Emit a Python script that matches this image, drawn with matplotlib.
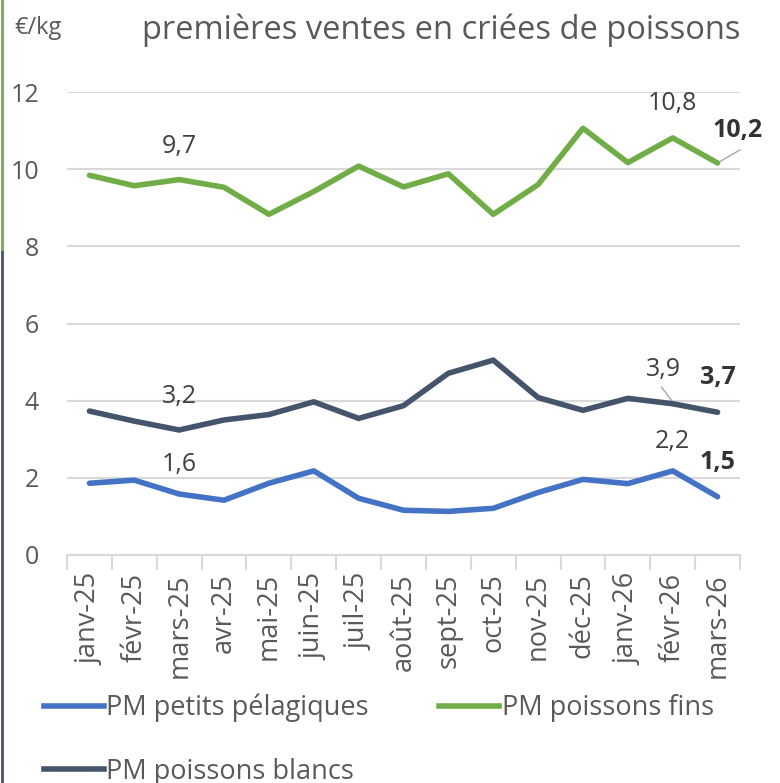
import matplotlib
matplotlib.use("Agg")
import matplotlib.pyplot as plt
from matplotlib.lines import Line2D

plt.rcParams['font.family'] = ['Open Sans', 'DejaVu Sans']

# data
months = ["janv-25", "févr-25", "mars-25", "avr-25", "mai-25", "juin-25", "juil-25",
          "août-25", "sept-25", "oct-25", "nov-25", "déc-25", "janv-26", "févr-26", "mars-26"]
petits_pelagiques = [1.86, 1.94, 1.58, 1.42, 1.86, 2.18, 1.47, 1.16, 1.13, 1.21, 1.62, 1.96, 1.85, 2.18, 1.51]
poissons_fins = [9.84, 9.57, 9.73, 9.53, 8.83, 9.42, 10.08, 9.54, 9.88, 8.83, 9.6, 11.06, 10.17, 10.81, 10.16]
poissons_blancs = [3.73, 3.47, 3.24, 3.5, 3.64, 3.97, 3.54, 3.87, 4.71, 5.05, 4.08, 3.75, 4.06, 3.92, 3.7]

blue = "#4472c4"
green = "#70ad47"
navy = "#44546a"
grey = "#595959"
txt = "#404040"
dark = "#333333"

fig = plt.figure(figsize=(7.8, 7.83), dpi=100)
ax = fig.add_axes([67 / 780, 1 - 555 / 783, 673 / 780, 463 / 783])

x = list(range(len(months)))
ax.plot(x, petits_pelagiques, color=blue, lw=4, solid_capstyle='round', zorder=3)
ax.plot(x, poissons_fins, color=green, lw=4, solid_capstyle='round', zorder=3)
ax.plot(x, poissons_blancs, color=navy, lw=4, solid_capstyle='round', zorder=3)

ax.set_xlim(-0.5, len(months) - 0.5)
ax.set_ylim(0, 12)
ax.set_yticks(range(0, 13, 2))
ax.yaxis.grid(True, color="#d9d9d9", lw=1.5)
ax.set_axisbelow(True)
for s in ["top", "right", "left"]:
    ax.spines[s].set_visible(False)
ax.spines["bottom"].set_color("#d9d9d9")
ax.spines["bottom"].set_linewidth(1.5)

ax.tick_params(axis='y', length=0, labelsize=18, labelcolor=grey, pad=20)
ax.set_xticks([i - 0.5 for i in range(len(months) + 1)], minor=False)
ax.set_xticklabels([])
ax.tick_params(axis='x', which='major', length=11, width=1.5, color="#d9d9d9")
ax.set_xticks(x, minor=True)
ax.set_xticklabels(months, minor=True, rotation=90, fontsize=19.5, color=grey)
ax.tick_params(axis='x', which='minor', length=0, pad=13)

# data labels
lab = dict(ha='center', va='center', fontsize=18, color=txt)
bold = dict(ha='center', va='center', fontsize=18, color=dark, fontweight='bold')
ax.text(2, 10.6, "9,7", **lab)
ax.text(13, 11.7, "10,8", **lab)
ax.text(14.45, 11.0, "10,2", **bold)
ax.plot([14, 14.5], [poissons_fins[14], 10.5], color="#a6a6a6", lw=1, clip_on=False)
ax.text(2, 4.1, "3,2", **lab)
ax.text(12.8, 4.8, "3,9", **lab)
ax.text(14.0, 4.6, "3,7", **bold)
ax.plot([13.0, 12.75], [poissons_blancs[13] + 0.05, 4.35], color="#a6a6a6", lw=1)
ax.text(2, 2.35, "1,6", **lab)
ax.text(13, 2.95, "2,2", **lab)
ax.text(14.0, 2.4, "1,5", **bold)

# legend (column-major fill, so order gives rows: petits/fins, blancs)
handles = [Line2D([], [], color=blue, lw=4),
           Line2D([], [], color=navy, lw=4),
           Line2D([], [], color=green, lw=4)]
leg = fig.legend(handles, ["PM petits pélagiques", "PM poissons blancs", "PM poissons fins"],
                 loc='upper left', bbox_to_anchor=(44 / 780, 1 - 694 / 783), ncol=2,
                 frameon=False, fontsize=19.5, labelcolor=grey, handlelength=2.2,
                 handletextpad=0.1, columnspacing=2.6, labelspacing=1.3,
                 borderaxespad=0, borderpad=0)

# titles
fig.text(441 / 780, 1 - 30 / 783, "premières ventes en criées de poissons",
         ha='center', va='center', fontsize=23.5, color=grey)
fig.text(14 / 780, 1 - 28 / 783, "€/kg", ha='left', va='center', fontsize=17, color=grey)

# left border decoration
fig.add_artist(Line2D([2 / 780, 2 / 780], [1, 1 - 252 / 783], color=green, lw=2))
fig.add_artist(Line2D([2 / 780, 2 / 780], [1 - 252 / 783, 0], color=navy, lw=2))

fig.savefig("out.png", dpi=100)
